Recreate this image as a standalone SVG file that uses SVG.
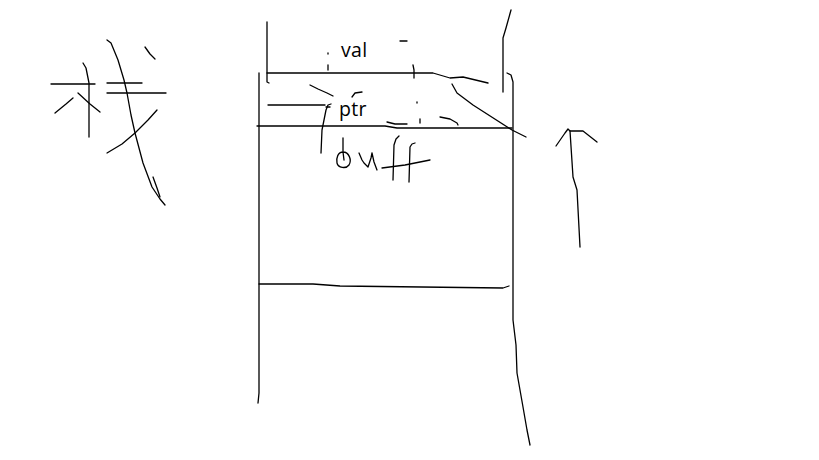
<svg xmlns="http://www.w3.org/2000/svg" width="819" height="460" viewBox="0 0 819 460">
<style>
.s{fill:none;stroke:#000;stroke-width:1.3;stroke-linecap:round;stroke-linejoin:round}
.t{font-family:"Open Sans","Noto Sans","Liberation Sans",sans-serif;font-size:19.5px;fill:#000;letter-spacing:0.3px}
</style>
<rect width="819" height="460" fill="#fff"/>
<g id="zhan">
<path class="s" d="M51,84 L95,84"/>
<path class="s" d="M83,63 L86,68 L89,83 L89,137"/>
<path class="s" d="M55,113 L66,104 L73,98"/>
<path class="s" d="M78,93 L90,104 L100,112"/>
<path class="s" d="M107,83 L142,83"/>
<path class="s" d="M107,93 L166,93"/>
<path class="s" d="M107,40 L111,43 L118,60 L124,80 L127,93 L131,115 L135,133 L143,163 L152,187 L160,199 L165,205"/>
<path class="s" d="M153,177 L157,188 L160,197"/>
<path class="s" d="M107,153 L122,144 L135,133 L148,120 L157,110"/>
<path class="s" d="M145,47 L150,54 L155,59"/>
</g>
<g id="stack">
<path class="s" d="M267,22 L267,82 L269,83"/>
<path class="s" d="M267,73 L413,73 L433,73 L450,78 L463,77 L488,83"/>
<path class="s" d="M259,73 L259,393 L258,403"/>
<path class="s" d="M268,105 L325,105"/>
<path class="s" d="M257,126 L385,126 L397,128 L512,128"/>
<path class="s" d="M511,10 L506,28 L503,38 L503,92"/>
<path class="s" d="M507,73 L511,75 L513,82 L513,320 L516,345 L517,373 L523,407 L527,430 L530,445"/>
<path class="s" d="M452,84 L457,93 L473,105 L512,130 L526,137"/>
<path class="s" d="M259,284 L313,284 L340,286 L503,288 L509,286"/>
</g>
<g id="val">
<text class="t" x="341" y="57">val</text>
</g>
<g id="ptr">
<text class="t" x="339" y="116">ptr</text>
</g>
<g id="buff">
<path class="s" d="M321,153 L322,130 L326,110 L328,105 L331,104"/>
<path class="s" d="M326,107 L330,107"/>
<path class="s" d="M343,138 L343,152 L344,160 M343,152 C338,152 336,158 337,163 C338,168 346,169 349,165 C352,160 349,152 343,152"/>
<path class="s" d="M359,153 L362,160 L364,163 L368,167 L371,158 L372,153 M372,153 L374,162 L377,170"/>
<path class="s" d="M393,180 L394,145 L396,139 L399,136"/>
<path class="s" d="M409,182 L410,147 L412,144 L415,143"/>
<path class="s" d="M382,168 L405,165 L420,162 L430,160"/>
</g>
<g id="marks">
<path class="s" d="M400,41 L407,41"/>
<path class="s" d="M328,53 L328,54"/>
<path class="s" d="M328,65 L328,70"/>
<path class="s" d="M413,65 L414,70 L414,78"/>
<path class="s" d="M310,85 L318,89 L327,93 L333,96"/>
<path class="s" d="M352,97 L355,93 L362,92"/>
<path class="s" d="M417,102 L417,103"/>
<path class="s" d="M420,119 L420,123"/>
<path class="s" d="M387,122 L395,124 L407,124"/>
<path class="s" d="M440,117 L450,119 L457,123 L458,125"/>
</g>
<g id="connectors">
<path class="s" d="M570,131 L573,177 L577,190 L580,247"/>
<path class="s" d="M556,146 L565,133 L568,129 L570,131 L583,131 L597,142"/>
</g>
</svg>
